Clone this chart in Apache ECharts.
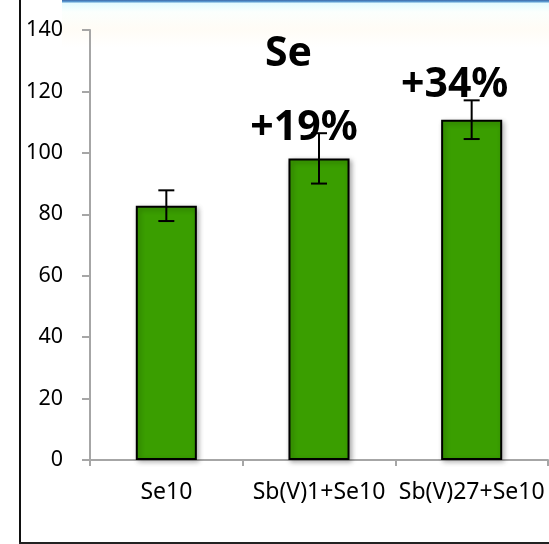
<!DOCTYPE html>
<html>
<head>
<meta charset="utf-8">
<script src="https://cdn.jsdelivr.net/npm/echarts@6/dist/echarts.min.js"></script>
<style>
  html, body { margin: 0; padding: 0; background: #ffffff; }
  #chart { width: 549px; height: 544px; }
</style>
</head>
<body>
<div id="chart"></div>
<script>
// Treatments and measured means with their error margins
const categories = ['Se10', 'Sb(V)1+Se10', 'Sb(V)27+Se10'];
const means = [82.8, 98.2, 110.8];
const errors = [5, 8.2, 6.3];
const gainLabels = ['', '+19%', '+34%'];
const yTicks = [0, 20, 40, 60, 80, 100, 120, 140];

const FONT = '"Noto Sans", "Open Sans", sans-serif';
const chart = echarts.init(document.getElementById('chart'), null, { renderer: 'canvas' });

// Error bar: vertical stem plus two caps, placed through the value axis
function renderErrorBar(params, api) {
  const idx = api.value(0);
  const hi = api.coord([idx, api.value(1)]);
  const lo = api.coord([idx, api.value(2)]);
  const cap = 8;
  const style = { stroke: '#000000', lineWidth: 2 };
  return {
    type: 'group',
    children: [
      { type: 'line', shape: { x1: hi[0], y1: hi[1], x2: lo[0], y2: lo[1] }, style },
      { type: 'line', shape: { x1: hi[0] - cap, y1: hi[1], x2: hi[0] + cap, y2: hi[1] }, style },
      { type: 'line', shape: { x1: lo[0] - cap, y1: lo[1], x2: lo[0] + cap, y2: lo[1] }, style }
    ]
  };
}

// Percentage gain text above each bar
function renderGain(params, api) {
  const idx = api.value(0);
  const text = gainLabels[idx];
  if (!text) return null;
  const p = api.coord([idx, api.value(1)]);
  const shift = idx === 1 ? [-15, -30] : [-17, -34];
  return {
    type: 'text',
    x: p[0] + shift[0],
    y: p[1] + shift[1],
    style: {
      text: text,
      fill: '#000000',
      font: 'bold 41px ' + FONT,
      align: 'center',
      verticalAlign: 'middle'
    }
  };
}

const option = {
  backgroundColor: '#ffffff',
  animation: false,
  graphic: [
    {
      type: 'rect',
      shape: { x: 62, y: 0, width: 487, height: 48 },
      style: {
        fill: {
          type: 'linear', x: 0, y: 0, x2: 0, y2: 1,
          colorStops: [
            { offset: 0, color: '#3b68a8' },
            { offset: 0.035, color: '#5b9bd2' },
            { offset: 0.07, color: '#e4fbff' },
            { offset: 0.25, color: '#fbfffd' },
            { offset: 0.6, color: '#fffcf6' },
            { offset: 1, color: '#ffffff' }
          ]
        }
      },
      z: -10
    },
    { type: 'line', shape: { x1: 20, y1: 0, x2: 20, y2: 544 }, style: { stroke: '#111111', lineWidth: 2 } },
    { type: 'line', shape: { x1: 19, y1: 543, x2: 549, y2: 543 }, style: { stroke: '#222222', lineWidth: 2 } }
  ],
  title: {
    text: 'Se',
    left: 260,
    top: 29,
    textStyle: { fontFamily: FONT, fontWeight: 'bold', fontSize: 41, color: '#000000' }
  },
  grid: { left: 90, right: 1, top: 30, bottom: 84 },
  xAxis: {
    type: 'category',
    data: categories,
    axisLine: { lineStyle: { color: '#a6a6a6', width: 2 } },
    axisTick: { show: true, length: 6, lineStyle: { color: '#a6a6a6', width: 2 } },
    axisLabel: { color: '#000000', fontFamily: FONT, fontSize: 23, margin: 21, interval: 0 }
  },
  yAxis: {
    type: 'value',
    min: 0,
    max: 140,
    interval: 20,
    axisLine: { show: true, lineStyle: { color: '#a6a6a6', width: 2 } },
    axisTick: { show: true, length: 8, lineStyle: { color: '#a6a6a6', width: 2 } },
    axisLabel: {
      color: '#000000', fontFamily: FONT, fontSize: 21.5, margin: 27,
      formatter: v => (yTicks.includes(v) ? String(v) : '')
    },
    splitLine: { show: false }
  },
  series: [
    {
      type: 'bar',
      data: means,
      barWidth: '40%',
      itemStyle: {
        color: '#3a9e00',
        borderColor: '#000000',
        borderWidth: 2,
        shadowColor: 'rgba(0,0,0,0.3)',
        shadowBlur: 5,
        shadowOffsetX: 2,
        shadowOffsetY: 2
      },
      z: 2
    },
    {
      type: 'custom',
      renderItem: renderErrorBar,
      data: means.map((m, i) => [i, m + errors[i], m - errors[i]]),
      z: 3
    },
    {
      type: 'custom',
      renderItem: renderGain,
      data: means.map((m, i) => [i, m]),
      z: 4
    }
  ]
};

chart.setOption(option);
</script>
</body>
</html>
